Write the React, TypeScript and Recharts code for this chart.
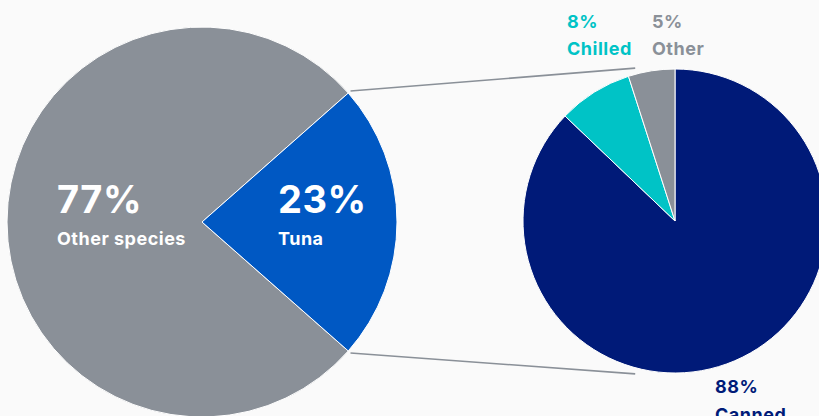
import { PieChart, Pie, Cell } from 'recharts'

// left pie: share of catch
const speciesNames = ['Other species', 'Tuna']
const speciesValues = [77, 23]
const speciesColors = ['#8a9098', '#0058c3']

// right pie: breakdown of tuna
const tunaNames = ['Canned', 'Chilled', 'Other']
const tunaValues = [88, 8, 5]
const tunaColors = ['#001a78', '#00c3c6', '#8a9098']

const W = 819
const H = 416
const FONT = "Inter, 'DejaVu Sans', sans-serif"

const L = { cx: 202, cy: 222, r: 195 }
const R = { cx: 675, cy: 221, r: 152 }

const speciesData = speciesNames.map((name, i) => ({ name, value: speciesValues[i] }))
const tunaData = tunaNames.map((name, i) => ({ name, value: tunaValues[i] }))

// tuna slice is centred on 3 o'clock
const total = speciesValues.reduce((a, b) => a + b, 0)
const tunaHalf = (speciesValues[1] / total) * 180

const rad = (d: number) => (d * Math.PI) / 180
const pt = (c: { cx: number; cy: number }, r: number, deg: number) => ({
  x: c.cx + r * Math.cos(rad(deg)),
  y: c.cy - r * Math.sin(rad(deg)),
})

export default function App() {
  const a1 = pt(L, L.r + 3, tunaHalf)
  const a2 = pt(L, L.r + 3, -tunaHalf)
  const b1 = pt(R, R.r + 6, 104.6)
  const b2 = pt(R, R.r + 6, -104.6)
  const small = { fontSize: 18, letterSpacing: 0.5 }

  return (
    <div style={{ position: 'fixed', left: 0, top: 0, width: W, height: H, overflow: 'hidden', background: '#fafafa' }}>
      <PieChart width={W} height={H} margin={{ top: 0, right: 0, bottom: 0, left: 0 }}>
        <Pie data={speciesData} dataKey="value" cx={L.cx} cy={L.cy} outerRadius={L.r} innerRadius={0}
          startAngle={tunaHalf} endAngle={tunaHalf + 360} stroke="#ffffff" strokeWidth={1} isAnimationActive={false}>
          {speciesData.map((d, i) => <Cell key={d.name} fill={speciesColors[i]} />)}
        </Pie>
        <Pie data={tunaData} dataKey="value" cx={R.cx} cy={R.cy} outerRadius={R.r} innerRadius={0}
          startAngle={90} endAngle={-270} stroke="#ffffff" strokeWidth={1} isAnimationActive={false}>
          {tunaData.map((d, i) => <Cell key={d.name} fill={tunaColors[i]} />)}
        </Pie>
      </PieChart>
      <svg width={W} height={H} style={{ position: 'absolute', left: 0, top: 0, pointerEvents: 'none' }}>
        <line x1={a1.x} y1={a1.y} x2={b1.x} y2={b1.y} stroke="#8a9098" strokeWidth={1.6} />
        <line x1={a2.x} y1={a2.y} x2={b2.x} y2={b2.y} stroke="#8a9098" strokeWidth={1.6} />
        <g fontFamily={FONT} fontWeight={700}>
          <text x={57} y={213} fontSize={38} letterSpacing={0.5} fill="#fff">{speciesValues[0]}%</text>
          <text x={57} y={245} {...small} fill="#fff">{speciesNames[0]}</text>
          <text x={278} y={213} fontSize={38} letterSpacing={0.5} fill="#fff">{speciesValues[1]}%</text>
          <text x={278} y={245} {...small} fill="#fff">{speciesNames[1]}</text>

          <text x={567} y={28} {...small} fill={tunaColors[1]}>{tunaValues[1]}%</text>
          <text x={567} y={55} {...small} fill={tunaColors[1]}>{tunaNames[1]}</text>
          <text x={652} y={28} {...small} fill={tunaColors[2]}>{tunaValues[2]}%</text>
          <text x={652} y={55} {...small} fill={tunaColors[2]}>{tunaNames[2]}</text>
          <text x={715} y={393} {...small} fill={tunaColors[0]}>{tunaValues[0]}%</text>
          <text x={715} y={421} {...small} fill={tunaColors[0]}>{tunaNames[0]}</text>
        </g>
      </svg>
    </div>
  )
}
